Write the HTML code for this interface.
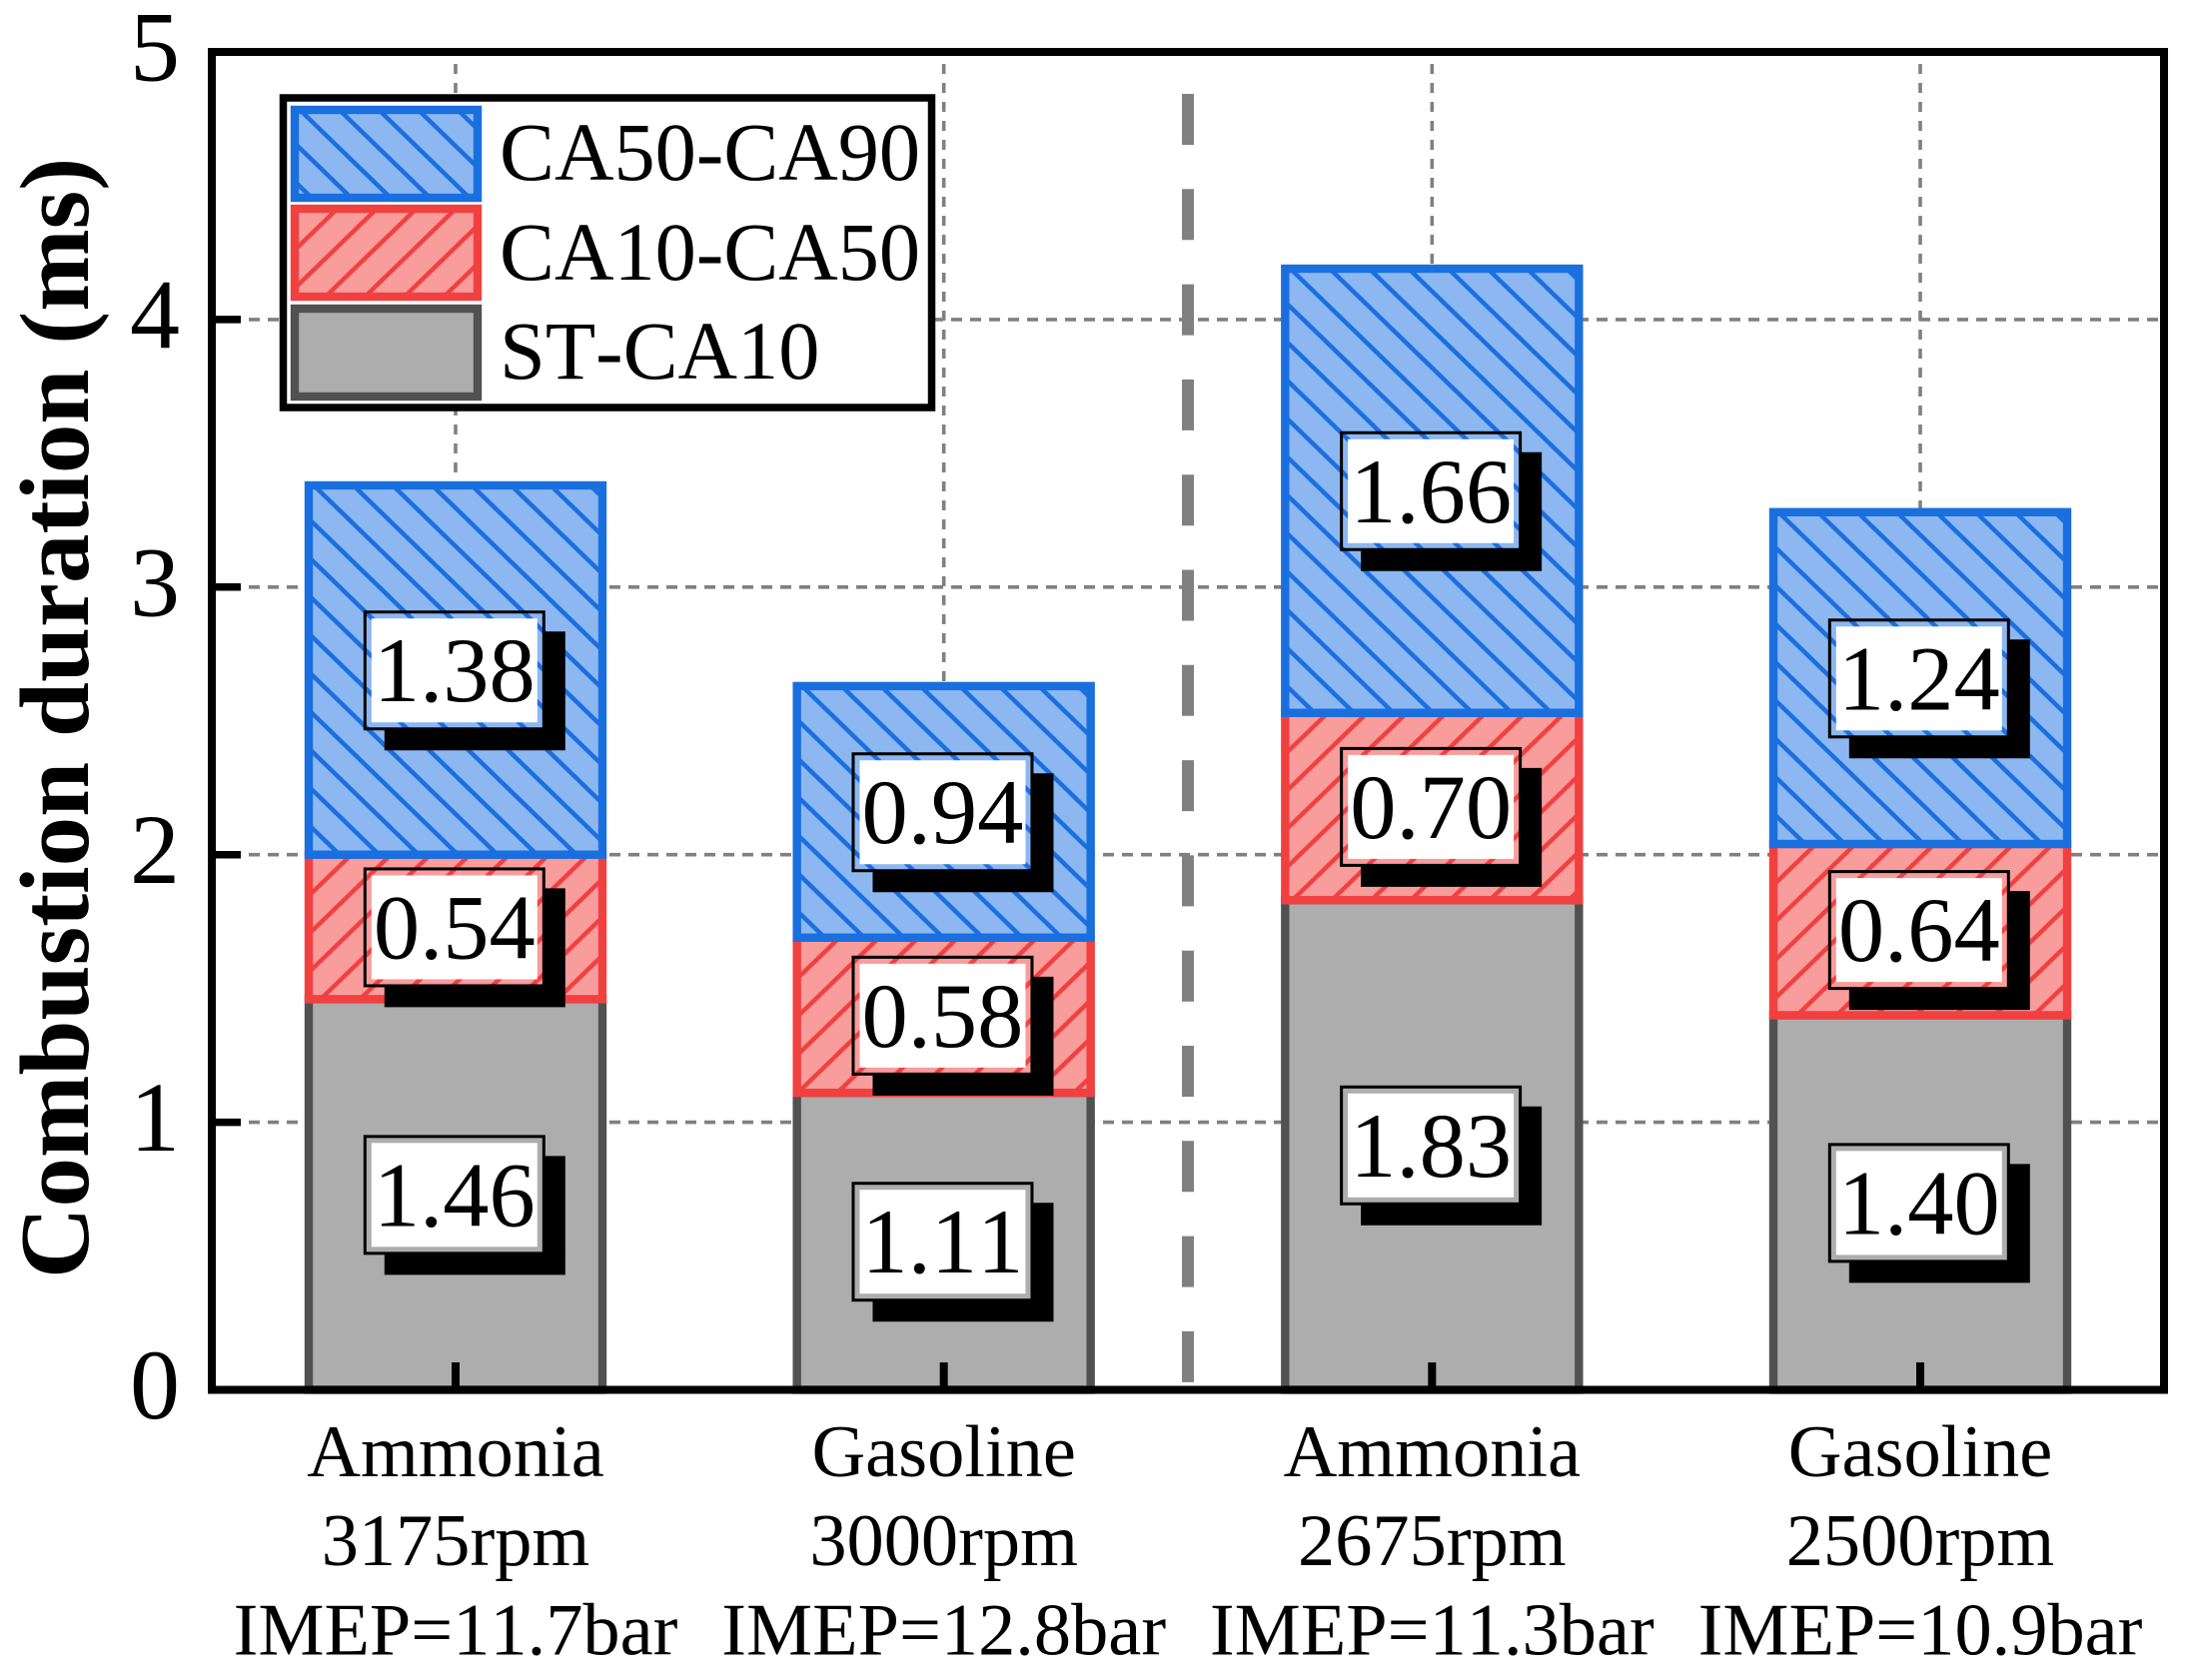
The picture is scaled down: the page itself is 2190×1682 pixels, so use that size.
<!DOCTYPE html>
<html lang="en">
<head>
<meta charset="utf-8">
<title>Combustion duration stacked bars</title>
<style>
html,body{margin:0;padding:0;background:#fff;width:2190px;height:1682px;overflow:hidden}
svg{display:block}
text{font-family:"Liberation Serif","Times New Roman",serif;fill:#000;font-kerning:none}
</style>
</head>
<body>
<svg id="chart" xmlns="http://www.w3.org/2000/svg" width="2190" height="1682" viewBox="0 0 2190 1682">
<defs id="defs"></defs>
<rect width="2190" height="1682" fill="#fff"></rect>
<g id="grid"></g>
<g id="divider"></g>
<g id="bars"></g>
<rect x="212" y="52" width="1954" height="1339.5" fill="none" stroke="#000" stroke-width="8"></rect>
<g id="ticks"></g>
<g id="labels"></g>
<g id="legend"></g>
<text x="88" y="1280" font-size="99" font-weight="700" transform="rotate(-90 88 1280)">Combustion duration (ms)</text>
</svg>
<script>
const fuels = ['Ammonia', 'Gasoline', 'Ammonia', 'Gasoline'];
const speeds = ['3175rpm', '3000rpm', '2675rpm', '2500rpm'];
const imeps = ['IMEP=11.7bar', 'IMEP=12.8bar', 'IMEP=11.3bar', 'IMEP=10.9bar'];
const stCa10 = [1.46, 1.11, 1.83, 1.40];
const ca10Ca50 = [0.54, 0.58, 0.70, 0.64];
const ca50Ca90 = [1.38, 0.94, 1.66, 1.24];
const yTickLabels = ['0', '1', '2', '3', '4', '5'];
const legendLabels = ['CA50-CA90', 'CA10-CA50', 'ST-CA10'];
const dividerPosition = 1.5;

const NS = 'http://www.w3.org/2000/svg';
const plotLeft = 212, plotRight = 2166, plotTop = 52, plotBottom = 1391.5;
const yMax = 5;
const barWidth = 294;
const xFirst = 456, xStep = 488.67;
const y = v => plotBottom - (v / yMax) * (plotBottom - plotTop);
const x = i => xFirst + i * xStep;

const styles = {
  gray: { stroke: '#515151', fill: '#adadad' },
  red: { stroke: '#f14040', fill: '#f89c9c' },
  blue: { stroke: '#1a6fdf', fill: '#8db7f0' }
};

function el(tag, attrs, parent) {
  const n = document.createElementNS(NS, tag);
  for (const k in attrs) n.setAttribute(k, attrs[k]);
  parent.appendChild(n);
  return n;
}

const defs = document.getElementById('defs');
let patternCount = 0;
function hatch(kind, left, top) {
  const id = 'hatch' + (patternCount++);
  const w = 39.5, h = 38.3;
  const dx = left;
  const dy = kind === 'blue' ? top - 5 : top + 3;
  const p = el('pattern', { id: id, patternUnits: 'userSpaceOnUse', width: w, height: h, patternTransform: 'translate(' + dx + ' ' + dy + ')' }, defs);
  el('rect', { width: w, height: h, fill: styles[kind].fill }, p);
  for (const s of [-1, 0, 1]) {
    if (kind === 'blue') {
      el('line', { x1: s * w - 5, y1: -5 * h / w, x2: s * w + w + 5, y2: h + 5 * h / w, stroke: styles[kind].stroke, 'stroke-width': 4.4 }, p);
    } else {
      el('line', { x1: s * w - 5, y1: h + 5 * h / w, x2: s * w + w + 5, y2: -5 * h / w, stroke: styles[kind].stroke, 'stroke-width': 4.4 }, p);
    }
  }
  return 'url(#' + id + ')';
}

/* grid */
const gridG = document.getElementById('grid');
yTickLabels.slice(1, -1).forEach(t => {
  const line = el('line', { x1: 211, x2: plotRight, y1: y(+t), y2: y(+t), stroke: '#808080', 'stroke-width': 3.6, 'stroke-dasharray': '11 8' }, gridG);
  
  
});
fuels.forEach((f, i) => {
  const line = el('line', { x1: x(i), x2: x(i), y1: 64, y2: plotBottom, stroke: '#808080', 'stroke-width': 3.6, 'stroke-dasharray': '10 9' }, gridG);
  
  
});

/* divider */
const divX = xFirst + dividerPosition * xStep;
const divider = el('line', { x1: divX, x2: divX, y1: 94, y2: 1385, stroke: '#808080', 'stroke-width': 12, 'stroke-dasharray': '51 44.3' }, document.getElementById('divider'));



/* bars */
const barsG = document.getElementById('bars');
const labelsG = document.getElementById('labels');
fuels.forEach((f, i) => {
  const segs = [
    { v: stCa10[i], kind: 'gray' },
    { v: ca10Ca50[i], kind: 'red' },
    { v: ca50Ca90[i], kind: 'blue' }
  ];
  let base = 0;
  const left = x(i) - barWidth / 2;
  segs.forEach(s => {
    const yTop = y(base + s.v), yBot = y(base);
    const fill = s.kind === 'gray' ? styles.gray.fill : hatch(s.kind, left, yTop);
    const r = el('rect', { x: left, y: yTop, width: barWidth, height: yBot - yTop, fill: fill, stroke: styles[s.kind].stroke, 'stroke-width': 8.4 }, barsG);
    
    

    const cx = x(i) - 1.2, cy = y(base + s.v / 2) + 0.4;
    const L = cx - 91, T = cy - 60, R = cx + 91, B = cy + 60;
    const shadow = el('path', { d: 'M' + (R - 1) + ' ' + (T + 21) + 'H' + (R + 20) + 'V' + (B + 20) + 'H' + (L + 21) + 'V' + (B - 1) + 'H' + (R - 1) + 'Z', fill: '#000' }, labelsG);
    
    
    const frame = el('rect', { x: L + 1.5, y: T + 1.5, width: 179, height: 117, fill: 'none', stroke: '#000', 'stroke-width': 3 }, labelsG);
    
    
    const box = el('rect', { x: L + 8, y: T + 8, width: 166, height: 104, fill: '#fff' }, labelsG);
    
    
    const t = el('text', { x: cx, y: cy + 31, 'font-size': 92.5, 'text-anchor': 'middle' }, labelsG);
    t.textContent = s.v.toFixed(2);
    
    
    base += s.v;
  });
});

/* ticks and tick labels */
const ticksG = document.getElementById('ticks');
yTickLabels.forEach(t => {
  const v = +t;
  if (v > 0 && v < yMax) {
    const tick = el('line', { x1: plotLeft, x2: 241, y1: y(v), y2: y(v), stroke: '#000', 'stroke-width': 7.5 }, ticksG);
    
    
  }
  const lab = el('text', { x: 180, y: y(v) + 28.5, 'font-size': 100, 'text-anchor': 'end' }, ticksG);
  lab.textContent = t;
  
  
});
fuels.forEach((f, i) => {
  const tick = el('line', { x1: x(i), x2: x(i), y1: plotBottom, y2: 1364, stroke: '#000', 'stroke-width': 8 }, ticksG);
  
  
  [[f, 1478], [speeds[i], 1567], [imeps[i], 1656.5]].forEach(row => {
    const t = el('text', { x: x(i), y: row[1], 'font-size': 74.4, 'text-anchor': 'middle' }, ticksG);
    t.textContent = row[0];
    
    
  });
});

/* legend */
const legendG = document.getElementById('legend');
const legendBox = el('rect', { x: 283.5, y: 98, width: 649, height: 310, fill: '#fff', stroke: '#000', 'stroke-width': 7.5 }, legendG);


const legendKinds = ['blue', 'red', 'gray'];
const swatchTops = [110, 209, 309];
const legendBaselines = [180, 280, 379];
legendLabels.forEach((name, i) => {
  const kind = legendKinds[i];
  const fill = kind === 'gray' ? styles.gray.fill : hatch(kind, 295, swatchTops[i]);
  const sw = el('rect', { x: 295, y: swatchTops[i], width: 183, height: 88, fill: fill, stroke: styles[kind].stroke, 'stroke-width': 8.4 }, legendG);
  
  
  const t = el('text', { x: 500, y: legendBaselines[i], 'font-size': 82.4 }, legendG);
  t.textContent = name;
  
  
});
</script>
</body>
</html>
